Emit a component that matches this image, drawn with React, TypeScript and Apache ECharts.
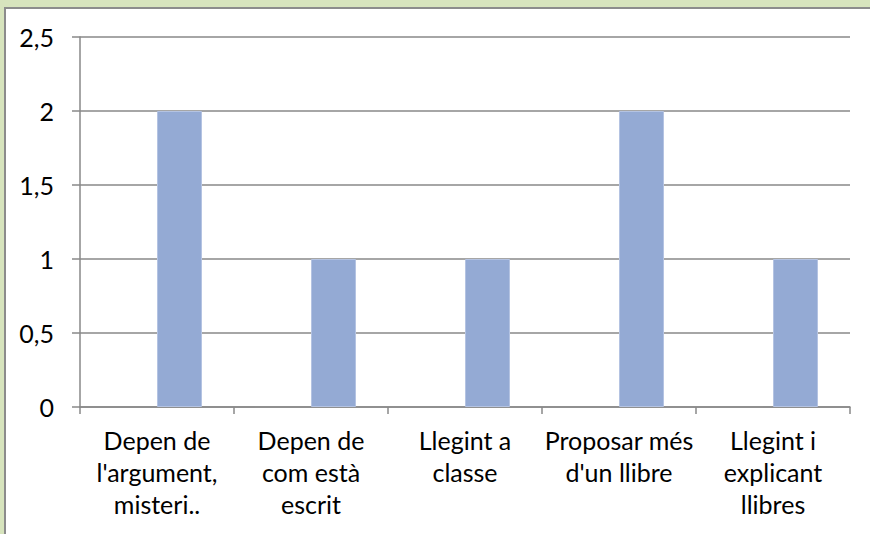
import React, { useEffect, useRef } from "react";
import * as echarts from "echarts";

const categories = [
  "Depen de\nl'argument,\nmisteri..",
  "Depen de\ncom està\nescrit",
  "Llegint a\nclasse",
  "Proposar més\nd'un llibre",
  "Llegint i\nexplicant\nllibres",
];
const emptySeries = [null, null, null, null, null];
const values = [2, 1, 1, 2, 1];
const yMin = 0;
const yMax = 2.5;
const yInterval = 0.5;

const FONT = "Lato";

export default function App() {
  const ref = useRef<HTMLDivElement>(null);
  useEffect(() => {
    if (!ref.current) return;
    const chart = echarts.init(ref.current, null, { renderer: "svg" });
    chart.setOption({
      animation: false,
      backgroundColor: "transparent",
      grid: { left: 80, right: 20, top: 37, bottom: 127, containLabel: false },
      xAxis: {
        type: "category",
        data: categories,
        boundaryGap: true,
        axisLine: { show: true, lineStyle: { color: "#888888", width: 1.5 } },
        axisTick: { show: true, alignWithLabel: false, length: 7, lineStyle: { color: "#888888", width: 1.5 } },
        axisLabel: {
          color: "#000000",
          fontFamily: FONT,
          fontSize: 25,
          lineHeight: 32,
          margin: 17,
          interval: 0,
          align: "center",
        },
        splitLine: { show: false },
      },
      yAxis: {
        type: "value",
        min: yMin,
        max: yMax,
        interval: yInterval,
        axisLine: { show: true, lineStyle: { color: "#888888", width: 1.5 } },
        axisTick: { show: true, length: 8, lineStyle: { color: "#888888", width: 1.5 } },
        axisLabel: {
          color: "#000000",
          fontFamily: FONT,
          fontSize: 25,
          margin: 26,
          formatter: (v: number) => String(v).replace(".", ","),
        },
        splitLine: { show: true, lineStyle: { color: "#888888", width: 1.5 } },
      },
      series: [
        {
          type: "bar",
          name: "Sèrie 1",
          data: emptySeries,
          barWidth: 45,
          barGap: "0%",
          itemStyle: { color: "transparent" },
        },
        {
          type: "bar",
          name: "Sèrie 2",
          data: values,
          barWidth: 45,
          barGap: "0%",
          itemStyle: { color: "#94AAD4", borderColor: "#B4C3E2", borderWidth: 1 },
        },
      ],
    });
    return () => chart.dispose();
  }, []);

  return (
    <div style={{ position: "fixed", left: 0, top: 0, width: 870, height: 534, background: "#D7E4BD", overflow: "hidden" }}>
      <div
        style={{
          position: "absolute",
          left: 4,
          top: 7,
          width: 866,
          height: 527,
          background: "#ffffff",
          borderLeft: "2px solid #8C8C8C",
          borderTop: "2px solid #8C8C8C",
          boxSizing: "border-box",
        }}
      />
      <div ref={ref} style={{ position: "absolute", left: 0, top: 0, width: 870, height: 534 }} />
    </div>
  );
}
